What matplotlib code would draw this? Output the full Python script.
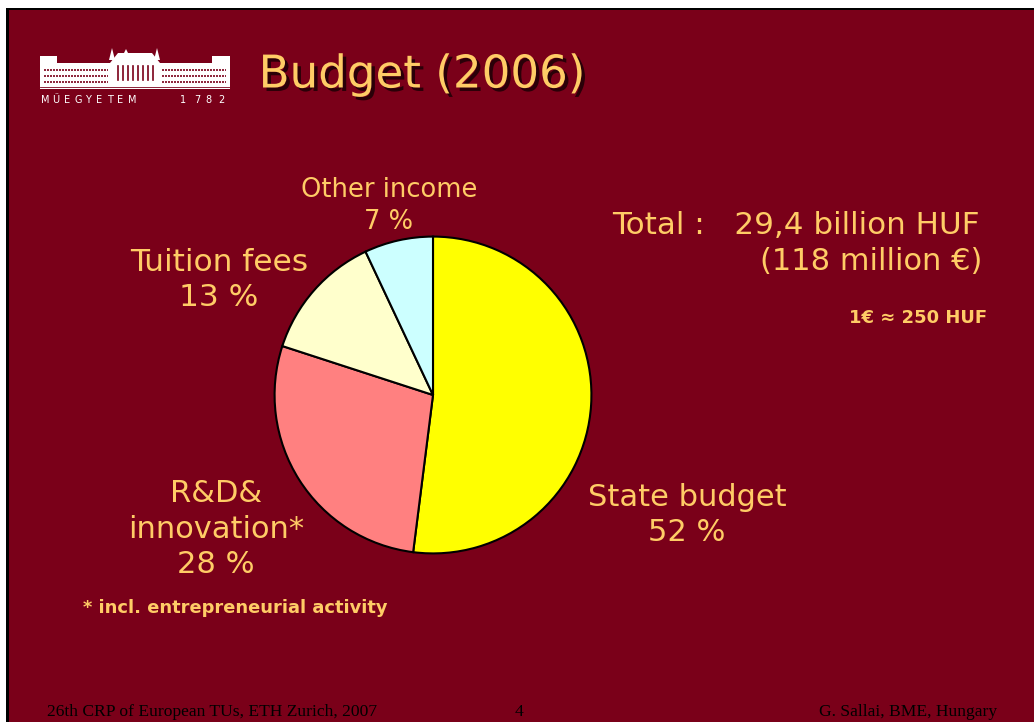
import matplotlib.pyplot as plt
import matplotlib.patches as mpatches
import matplotlib.patheffects as pe

# Data
categories = ['State budget', 'R&D&\ninnovation*', 'Tuition fees', 'Other income']
shares = [52, 28, 13, 7]
colors = ['#FFFF00', '#FF8080', '#FFFFCC', '#CCFFFF']

bg_color = '#7A0019'
txt_color = '#FFCC66'

fig = plt.figure(figsize=(10.34, 7.22), dpi=100)
fig.patch.set_facecolor('white')

# background axes in pixel coordinates
bg = fig.add_axes([0, 0, 1, 1])
bg.set_xlim(0, 1034)
bg.set_ylim(722, 0)
bg.axis('off')
bg.add_patch(mpatches.Rectangle((6, 8), 1040, 720, facecolor='black', edgecolor='none'))
bg.add_patch(mpatches.Rectangle((9, 10), 1040, 720, facecolor=bg_color, edgecolor='none'))

# logo (simplified building)
w = 'white'
bg.add_patch(mpatches.Rectangle((40, 63), 190, 26, facecolor=w, edgecolor='none'))
bg.add_patch(mpatches.Rectangle((40, 56), 17, 8, facecolor=w, edgecolor='none'))
bg.add_patch(mpatches.Rectangle((212, 56), 18, 8, facecolor=w, edgecolor='none'))
bg.add_patch(mpatches.Polygon([(110, 63), (118, 53), (152, 53), (160, 63)], closed=True,
                              facecolor=w, edgecolor='none'))
bg.add_patch(mpatches.Polygon([(109, 60), (112, 48), (115, 60)], closed=True, facecolor=w, edgecolor='none'))
bg.add_patch(mpatches.Polygon([(154, 60), (157, 48), (160, 60)], closed=True, facecolor=w, edgecolor='none'))
bg.add_patch(mpatches.Polygon([(124, 53), (126, 49), (128, 53)], closed=True, facecolor=w, edgecolor='none'))
for yy in (70, 76, 82):
    bg.plot([44, 108], [yy, yy], color=bg_color, lw=1.2, ls=(0, (1.2, 0.6)))
    bg.plot([162, 226], [yy, yy], color=bg_color, lw=1.2, ls=(0, (1.2, 0.6)))
for xx in range(118, 154, 5):
    bg.plot([xx, xx], [66, 80], color=bg_color, lw=1.2)
bg.plot([40, 230], [87, 87], color=bg_color, lw=0.6)
logo_chars = 'MŰEGYETEM1782'
logo_x = [45, 56, 67, 78, 88, 99, 110, 120, 132, 183, 197, 208, 221]
for ch, xx in zip(logo_chars, logo_x):
    bg.text(xx, 100, ch, color=w, fontsize=7, ha='center', va='center', family='DejaVu Sans')

# title
bg.text(422, 75, 'Budget (2006)', color=txt_color, fontsize=32.5, ha='center', va='center',
        family='DejaVu Sans',
        path_effects=[pe.withSimplePatchShadow(offset=(2.5, -2.5), shadow_rgbFace='#2A0008', alpha=1.0)])

# pie
ax = fig.add_axes([273 / 1034, (722 - 555) / 722, 320 / 1034, 320 / 722])
ax.pie(shares, colors=colors, startangle=90, counterclock=False,
       wedgeprops=dict(edgecolor='black', linewidth=1.5))
ax.set_xlim(-1.01, 1.01)
ax.set_ylim(-1.01, 1.01)
ax.set_aspect('equal')
ax.axis('off')

# slice labels
lab_pos = [(687, 515), (216, 529), (219, 280), (389, 206)]
lab_size = [22, 22, 22.5, 18.5]
for cat, val, (x, y), fs in zip(categories, shares, lab_pos, lab_size):
    bg.text(x, y, f'{cat}\n{val} %', color=txt_color, fontsize=fs, ha='center', va='center',
            family='DejaVu Sans', linespacing=1.3)

# totals
bg.text(612, 226, 'Total :   29,4 billion HUF', color=txt_color, fontsize=22.3, ha='left', va='center',
        family='DejaVu Sans')
bg.text(982, 261, '(118 million €)', color=txt_color, fontsize=22, ha='right', va='center',
        family='DejaVu Sans')
bg.text(987, 318, '1€ ≈ 250 HUF', color=txt_color, fontsize=13, ha='right', va='center',
        family='DejaVu Sans', fontweight='bold')
bg.text(83, 608, '* incl. entrepreneurial activity', color=txt_color, fontsize=12.9, ha='left',
        va='center', family='DejaVu Sans', fontweight='bold')

# footer
bg.text(47, 712, '26th CRP of European TUs, ETH Zurich, 2007', color='black', fontsize=12.6,
        ha='left', va='center', family='Liberation Serif')
bg.text(519, 712, '4', color='black', fontsize=12.6, ha='center', va='center', family='Liberation Serif')
bg.text(997, 712, 'G. Sallai, BME, Hungary', color='black', fontsize=12.6, ha='right', va='center',
        family='Liberation Serif')

fig.savefig('out.png', dpi=100, facecolor=fig.get_facecolor())
